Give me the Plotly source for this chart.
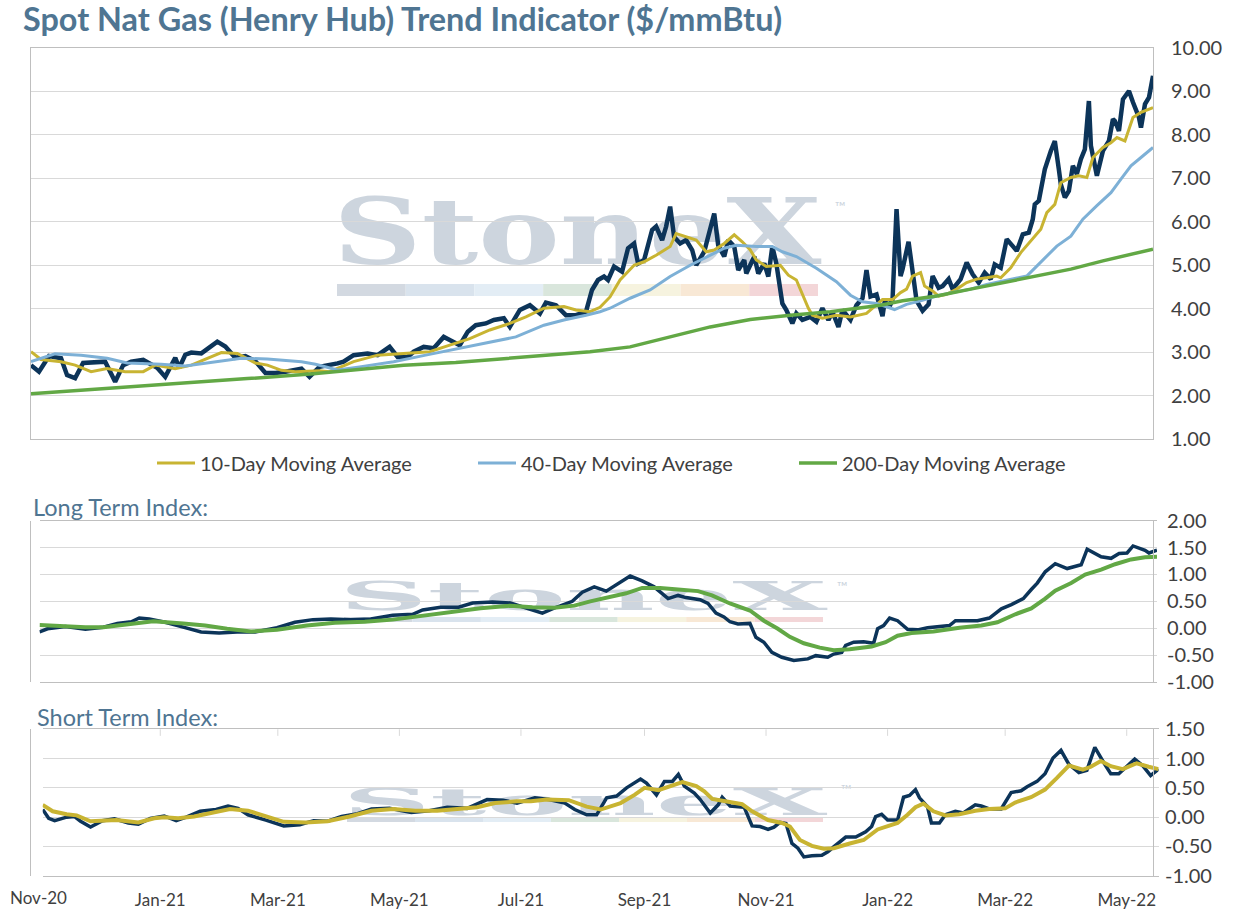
import json
import pandas as pd
import plotly.graph_objects as go

# ---------------- data ----------------
START = pd.Timestamp("2020-11-03")
END = pd.Timestamp("2022-05-17")

# Spot Henry Hub price ($/mmBtu), days after START
price_day = [0, 4, 9, 15, 18, 22, 26, 32, 37, 42, 46, 50, 56, 63, 67, 72, 74, 77, 80, 85,
             90, 93, 97, 102, 107, 112, 117, 122, 127, 135, 139, 144, 153, 156, 161, 168, 173, 179, 183, 188,
             191, 196, 201, 206, 209, 214, 218, 222, 227, 231, 236, 239, 244, 249, 254, 257, 262, 267, 272, 277,
             280, 283, 286, 288, 291, 295, 298, 301, 303, 306, 310, 312, 315, 317, 319, 321, 324, 327, 330, 332,
             336, 338, 341, 343, 346, 348, 351, 353, 356, 357, 361, 363, 366, 368, 370, 372, 375, 377, 380, 382,
             385, 389, 392, 395, 398, 400, 403, 405, 409, 412, 415, 417, 419, 422, 425, 426, 429, 430, 432, 434,
             435, 438, 440, 442, 445, 448, 450, 453, 455, 458, 460, 464, 467, 470, 473, 476, 479, 481, 484, 487,
             490, 492, 495, 498, 500, 501, 503, 504, 506, 509, 511, 513, 514, 516, 518, 520, 522, 524, 526, 528,
             529, 532, 534, 535, 538, 540, 541, 543, 545, 548, 550, 553, 554, 556, 558, 560]
price_val = [2.70, 2.55, 2.91, 2.86, 2.47, 2.40, 2.75, 2.78, 2.78, 2.32, 2.70, 2.78, 2.82, 2.64, 2.43, 2.87, 2.64, 2.94, 2.99, 2.97,
             3.13, 3.24, 3.13, 2.87, 2.91, 2.79, 2.52, 2.52, 2.55, 2.62, 2.43, 2.66, 2.74, 2.78, 2.93, 2.97, 2.93, 3.12, 2.89, 2.89,
             3.01, 3.12, 3.09, 3.35, 3.28, 3.16, 3.47, 3.62, 3.66, 3.74, 3.78, 3.58, 3.97, 4.08, 3.89, 4.14, 4.08, 3.85, 3.85, 3.93,
             4.43, 4.66, 4.74, 4.66, 4.97, 4.85, 5.39, 5.50, 5.04, 5.12, 5.81, 5.89, 5.58, 5.89, 6.35, 5.65, 5.50, 5.58, 5.35, 5.00,
             5.31, 5.70, 6.19, 5.46, 5.20, 5.58, 5.43, 4.89, 5.12, 4.81, 5.20, 4.81, 5.04, 4.74, 5.43, 5.04, 4.12, 3.97, 3.66, 3.89,
             3.74, 3.81, 3.70, 4.01, 3.74, 3.93, 3.58, 3.97, 3.74, 4.08, 4.24, 4.89, 4.28, 4.33, 3.83, 4.14, 4.10, 4.21, 6.29, 4.75,
             4.91, 5.54, 4.83, 4.18, 3.95, 4.10, 4.75, 4.48, 4.52, 4.68, 4.45, 4.68, 5.06, 4.79, 4.60, 4.83, 4.68, 5.02, 4.94, 5.60,
             5.44, 5.33, 5.71, 5.75, 6.06, 6.40, 6.48, 6.71, 7.21, 7.63, 7.86, 7.21, 6.86, 6.56, 6.71, 7.29, 7.10, 7.44, 7.67, 8.78,
             7.75, 7.06, 7.44, 7.63, 7.86, 8.36, 8.32, 8.09, 8.82, 9.01, 8.75, 8.40, 8.17, 8.71, 8.86, 9.36]

ma10_day = [0, 5, 15, 22, 30, 38, 47, 56, 62, 72, 80, 88, 95, 103, 112, 118, 125, 132, 144, 149,
            161, 173, 189, 199, 209, 219, 229, 239, 247, 256, 266, 272, 279, 284, 289, 294, 301, 306, 312, 319,
            322, 327, 332, 337, 341, 346, 351, 355, 359, 362, 367, 374, 378, 382, 385, 388, 390, 395, 402, 409,
            417, 420, 425, 430, 434, 437, 440, 444, 446, 450, 453, 457, 462, 467, 472, 477, 482, 484, 489, 494,
            499, 504, 507, 511, 514, 519, 523, 527, 530, 535, 539, 542, 546, 550, 554, 560]
ma10_val = [3.01, 2.83, 2.78, 2.70, 2.55, 2.62, 2.55, 2.55, 2.70, 2.62, 2.70, 2.86, 2.99, 2.97, 2.75, 2.70, 2.58, 2.55, 2.57, 2.55,
            2.78, 2.93, 2.97, 3.01, 3.16, 3.31, 3.51, 3.66, 3.81, 4.01, 4.05, 3.97, 3.93, 4.03, 4.27, 4.66, 5.00, 5.08, 5.23, 5.43,
            5.73, 5.65, 5.58, 5.31, 5.35, 5.50, 5.70, 5.54, 5.35, 5.12, 4.97, 5.00, 4.77, 4.66, 4.35, 4.01, 3.85, 3.78, 3.85, 3.81,
            3.89, 4.01, 4.21, 4.21, 4.37, 4.45, 4.75, 4.83, 4.52, 4.41, 4.29, 4.33, 4.45, 4.60, 4.68, 4.71, 4.75, 4.71, 4.94, 5.29,
            5.56, 5.83, 6.21, 6.40, 6.90, 7.02, 7.06, 7.02, 7.48, 7.71, 7.82, 7.94, 7.86, 8.40, 8.52, 8.63]

ma40_day = [0, 12, 25, 38, 48, 65, 77, 93, 105, 118, 135, 142, 153, 164, 181, 197, 214, 231, 242, 256,
            266, 277, 284, 289, 299, 309, 319, 329, 339, 346, 352, 362, 370, 375, 382, 392, 402, 409, 415, 422,
            431, 437, 444, 452, 460, 469, 477, 485, 492, 497, 502, 507, 512, 519, 525, 532, 539, 544, 549, 554, 560]
ma40_val = [2.78, 2.96, 2.93, 2.86, 2.75, 2.72, 2.68, 2.79, 2.86, 2.84, 2.78, 2.72, 2.59, 2.66, 2.78, 2.93, 3.09, 3.24, 3.35, 3.62,
            3.74, 3.85, 3.93, 4.01, 4.24, 4.43, 4.74, 5.00, 5.23, 5.39, 5.46, 5.43, 5.43, 5.31, 5.20, 4.93, 4.62, 4.31, 4.16, 4.12,
            3.98, 4.10, 4.18, 4.29, 4.37, 4.45, 4.56, 4.64, 4.71, 4.75, 4.98, 5.21, 5.44, 5.67, 6.06, 6.37, 6.67, 6.98, 7.29, 7.48, 7.71]

ma200_day = [0, 36, 72, 108, 141, 186, 212, 234, 259, 279, 299, 319, 339, 359, 379, 399, 424, 435, 452, 469,
             485, 502, 519, 535, 549, 560]
ma200_val = [2.04, 2.15, 2.27, 2.39, 2.50, 2.70, 2.76, 2.84, 2.94, 3.01, 3.12, 3.35, 3.58, 3.75, 3.85, 3.93, 4.08, 4.18, 4.29, 4.45,
             4.60, 4.75, 4.91, 5.10, 5.25, 5.37]

# Long Term Index
lt_day = [0, 4, 13, 23, 32, 39, 46, 50, 55, 63, 72, 81, 90, 99, 108, 119, 128, 137, 146, 156,
          166, 177, 187, 192, 201, 210, 217, 227, 236, 245, 252, 259, 267, 272, 278, 284, 291, 296, 302, 308,
          315, 320, 324, 331, 335, 339, 343, 346, 350, 356, 359, 363, 367, 372, 378, 385, 389, 395, 398, 402,
          404, 408, 413, 418, 420, 423, 426, 430, 435, 440, 445, 450, 456, 459, 465, 470, 476, 482, 487, 493,
          497, 500, 504, 509, 515, 522, 525, 532, 537, 541, 545, 548, 554, 556, 560]
lt_val = [-0.07, -0.01, 0.03, -0.02, 0.02, 0.09, 0.12, 0.19, 0.17, 0.11, 0.02, -0.07, -0.09, -0.07, -0.07, 0.01, 0.11, 0.16, 0.17, 0.16,
          0.17, 0.24, 0.26, 0.34, 0.39, 0.39, 0.47, 0.49, 0.47, 0.36, 0.28, 0.39, 0.50, 0.67, 0.77, 0.69, 0.86, 0.97, 0.88, 0.77,
          0.55, 0.61, 0.57, 0.53, 0.46, 0.28, 0.21, 0.12, 0.08, 0.09, -0.17, -0.26, -0.45, -0.54, -0.60, -0.57, -0.51, -0.54, -0.48, -0.45,
          -0.32, -0.26, -0.25, -0.28, -0.01, 0.05, 0.19, 0.14, -0.02, -0.03, 0.01, 0.03, 0.05, 0.14, 0.14, 0.14, 0.19, 0.36, 0.44, 0.55,
          0.72, 0.84, 1.05, 1.20, 1.11, 1.18, 1.47, 1.33, 1.30, 1.39, 1.40, 1.53, 1.45, 1.40, 1.45]
lt_ma_day = [0, 13, 23, 32, 43, 57, 72, 83, 94, 106, 119, 134, 148, 163, 177, 192, 207, 221, 236, 247,
             258, 268, 276, 285, 294, 302, 311, 320, 330, 337, 346, 356, 363, 370, 376, 383, 391, 398, 406, 417,
             424, 430, 437, 448, 461, 472, 480, 489, 497, 504, 509, 517, 524, 532, 539, 547, 554, 560]
lt_ma_val = [0.06, 0.03, 0.02, 0.02, 0.07, 0.13, 0.09, 0.05, -0.01, -0.06, -0.03, 0.05, 0.10, 0.12, 0.16, 0.23, 0.30, 0.37, 0.42, 0.39,
             0.38, 0.42, 0.50, 0.57, 0.65, 0.75, 0.75, 0.72, 0.69, 0.61, 0.46, 0.33, 0.14, -0.01, -0.16, -0.28, -0.36, -0.41, -0.39, -0.34,
             -0.26, -0.14, -0.09, -0.06, 0.01, 0.05, 0.11, 0.26, 0.37, 0.55, 0.70, 0.84, 1.00, 1.09, 1.19, 1.28, 1.32, 1.33]

# Short Term Index
st_day = [0, 3, 6, 12, 16, 19, 24, 30, 36, 43, 48, 54, 61, 67, 72, 79, 87, 93, 98, 103,
          112, 121, 129, 136, 143, 150, 158, 165, 174, 185, 194, 203, 213, 223, 231, 238, 247, 254, 262, 267,
          273, 278, 283, 288, 293, 300, 303, 308, 312, 316, 319, 322, 327, 330, 335, 339, 341, 345, 352, 356,
          360, 364, 367, 370, 373, 376, 379, 382, 386, 391, 394, 398, 403, 408, 413, 416, 418, 421, 424, 429,
          432, 435, 438, 440, 444, 446, 450, 453, 458, 462, 468, 471, 475, 481, 486, 491, 494, 499, 503, 507,
          511, 515, 520, 524, 528, 533, 536, 540, 543, 548, 552, 556, 560]
st_val = [0.13, -0.02, -0.06, 0.00, 0.01, -0.07, -0.17, -0.06, -0.03, -0.10, -0.12, -0.02, 0.02, -0.06, 0.00, 0.10, 0.13, 0.19, 0.15, 0.04,
          -0.05, -0.15, -0.13, -0.06, -0.07, 0.01, 0.06, 0.14, 0.15, 0.08, 0.11, 0.17, 0.15, 0.30, 0.29, 0.24, 0.33, 0.30, 0.24, 0.13,
          0.04, 0.04, 0.33, 0.36, 0.50, 0.65, 0.58, 0.38, 0.61, 0.61, 0.73, 0.53, 0.41, 0.30, 0.07, 0.21, 0.34, 0.19, 0.17, -0.15,
          -0.16, -0.21, -0.17, -0.09, -0.11, -0.45, -0.53, -0.68, -0.66, -0.65, -0.59, -0.48, -0.34, -0.34, -0.25, -0.16, 0.01, 0.05, -0.05, -0.05,
          0.34, 0.37, 0.47, 0.33, 0.18, -0.10, -0.10, 0.04, 0.10, 0.07, 0.21, 0.19, 0.14, 0.14, 0.42, 0.45, 0.52, 0.61, 0.74, 1.01,
          1.14, 0.90, 0.76, 0.80, 1.19, 0.90, 0.74, 0.74, 0.84, 0.99, 0.88, 0.71, 0.82]
st_ma_day = [0, 5, 12, 17, 24, 30, 37, 48, 56, 61, 68, 76, 85, 94, 103, 112, 121, 132, 143, 154,
             165, 176, 187, 198, 209, 218, 227, 238, 245, 253, 264, 273, 280, 290, 297, 302, 309, 315, 321, 328,
             332, 336, 341, 351, 356, 364, 371, 375, 380, 386, 392, 397, 405, 412, 419, 429, 434, 438, 442, 447,
             453, 460, 468, 475, 483, 488, 496, 503, 509, 515, 522, 526, 531, 536, 542, 549, 555, 560]
st_ma_val = [0.21, 0.10, 0.05, 0.03, -0.07, -0.06, -0.05, -0.09, -0.02, 0.00, -0.02, 0.01, 0.08, 0.14, 0.11, 0.01, -0.08, -0.09, -0.07, 0.01,
             0.11, 0.14, 0.11, 0.11, 0.15, 0.17, 0.24, 0.27, 0.27, 0.30, 0.29, 0.18, 0.13, 0.24, 0.38, 0.50, 0.46, 0.53, 0.60, 0.53,
             0.44, 0.31, 0.28, 0.22, 0.10, -0.05, -0.10, -0.16, -0.39, -0.49, -0.54, -0.53, -0.45, -0.39, -0.21, -0.10, 0.04, 0.17, 0.23, 0.10,
             0.03, 0.05, 0.11, 0.14, 0.15, 0.25, 0.34, 0.47, 0.67, 0.88, 0.81, 0.86, 0.96, 0.87, 0.82, 0.92, 0.86, 0.82]

# axis labels
month_ticks = ["2021-01-01", "2021-03-01", "2021-05-01", "2021-07-01",
               "2021-09-01", "2021-11-01", "2022-01-01", "2022-03-01", "2022-05-01"]
month_labels = ["Jan-21", "Mar-21", "May-21", "Jul-21",
                "Sep-21", "Nov-21", "Jan-22", "Mar-22", "May-22"]
first_tick, first_label = "2020-11-01", "Nov-20"
top_ticks = [1, 2, 3, 4, 5, 6, 7, 8, 9, 10]
top_labels = ["1.00", "2.00", "3.00", "4.00", "5.00", "6.00", "7.00", "8.00", "9.00", "10.00"]
lt_ticks = [-1.0, -0.5, 0.0, 0.5, 1.0, 1.5, 2.0]
lt_labels = ["-1.00", "-0.50", "0.00", "0.50", "1.00", "1.50", "2.00"]
st_ticks = [-1.0, -0.5, 0.0, 0.5, 1.0, 1.5]
st_labels = ["-1.00", "-0.50", "0.00", "0.50", "1.00", "1.50"]

# ---------------- style ----------------
W, H = 1241, 916
NAVY = "#0c3459"
GOLD = "#c8b432"
BLUE = "#7db0d6"
GREEN = "#62a845"
GRID = "#d9d9d9"
BORDER = "#bfbfbf"
TXT = "#404040"
TITLE = "#4f7592"
FONT = "Lato"
WM = "#cdd5de"
BAR_COLORS = ["#d3d9e1", "#d9e3ed", "#e3edf5", "#d9e6dc", "#f6f3df", "#f8e8d5", "#f3d6d8"]


def px(x):
    return x / W


def py(y):
    return 1 - y / H


def dates(days):
    return [START + pd.Timedelta(days=d) for d in days]


fig = go.Figure()


def line(days, vals, color, width, xa, ya, name=None, legend=False):
    fig.add_trace(go.Scatter(x=dates(days), y=vals, mode="lines", name=name,
                             line=dict(color=color, width=width), showlegend=legend,
                             xaxis=xa, yaxis=ya, hoverinfo="skip"))


line(price_day, price_val, NAVY, 4.5, "x", "y", "Spot")
line(ma10_day, ma10_val, GOLD, 3, "x", "y", "10-Day Moving Average", True)
line(ma40_day, ma40_val, BLUE, 3, "x", "y", "40-Day Moving Average", True)
line(ma200_day, ma200_val, GREEN, 3.5, "x", "y", "200-Day Moving Average", True)

line(lt_day, lt_val, NAVY, 3.5, "x2", "y2")
line(lt_ma_day, lt_ma_val, GREEN, 4, "x2", "y2")

line(st_day, st_val, NAVY, 3.5, "x3", "y3")
line(st_ma_day, st_ma_val, GOLD, 4, "x3", "y3")

rng = [START, END]
box_x = dict(range=rng, showgrid=False, showticklabels=False, ticks="", showline=True,
             linecolor=BORDER, linewidth=1, mirror=True, zeroline=False, fixedrange=True,
             automargin=False)


def yax(domain, r, tv, tt, standoff):
    return dict(domain=domain, range=r, side="right", tickvals=tv, ticktext=tt,
                showgrid=True, gridcolor=GRID, gridwidth=1, zeroline=False,
                showline=True, linecolor=BORDER, linewidth=1, mirror=True, ticks="",
                tickfont=dict(family=FONT, size=20, color=TXT), ticklabelstandoff=standoff,
                fixedrange=True, automargin=False)


# bottom panel geometry
b_left, b_right = 42.7, 1158.6
ppd = (b_right - b_left) / (END - START).days

fig.update_layout(
    width=W, height=H, margin=dict(l=0, r=0, t=0, b=0, pad=0, autoexpand=False),
    paper_bgcolor="white", plot_bgcolor="white",
    font=dict(family=FONT, color=TXT),
    xaxis=dict(box_x, domain=[px(31), px(1153)], anchor="y"),
    yaxis=yax([py(439), py(48)], [1, 10], top_ticks, top_labels, 13),
    xaxis2=dict(box_x, domain=[px(39.5), px(1157)], anchor="y2"),
    yaxis2=yax([py(682), py(520.7)], [-1, 2], lt_ticks, lt_labels, 9),
    xaxis3=dict(box_x, domain=[px(b_left), px(b_right)], anchor="y3",
                showticklabels=True, tickvals=month_ticks, ticktext=month_labels,
                tickfont=dict(family=FONT, size=17, color=TXT), ticklabelstandoff=9),
    yaxis3=yax([py(875.7), py(729.3)], [-1, 1.5], st_ticks, st_labels, 7),
    legend=dict(orientation="h", x=px(152), xanchor="left", y=py(463), yanchor="middle",
                font=dict(family=FONT, size=20, color=TXT), itemwidth=38, entrywidth=268,
                bgcolor="rgba(0,0,0,0)", traceorder="normal"),
    showlegend=True,
)

# title and subtitles
fig.add_annotation(text="<b>Spot Nat Gas (Henry Hub) Trend Indicator ($/mmBtu)</b>",
                   x=px(21), y=py(19), xref="paper", yref="paper", xanchor="left", yanchor="middle",
                   showarrow=False, font=dict(family=FONT, size=32.4, color=TITLE))
fig.add_annotation(text="Long Term Index:", x=px(31), y=py(507), xref="paper", yref="paper",
                   xanchor="left", yanchor="middle", showarrow=False,
                   font=dict(family=FONT, size=23.5, color=TITLE))
fig.add_annotation(text="Short Term Index:", x=px(35), y=py(717), xref="paper", yref="paper",
                   xanchor="left", yanchor="middle", showarrow=False,
                   font=dict(family=FONT, size=23.5, color=TITLE))
# first month label sits just left of the bottom panel's first date
nov_days = (pd.Timestamp(first_tick) - START).days
fig.add_annotation(text=first_label, x=px(b_left + nov_days * ppd), y=py(875.7),
                   xref="paper", yref="paper", xanchor="center", yanchor="top", yshift=-9,
                   showarrow=False, font=dict(family=FONT, size=17, color=TXT))

# short tick marks along the top edge of the bottom panel
for t in month_ticks:
    fig.add_shape(type="line", xref="x3", yref="y3 domain", x0=t, x1=t, y0=1, y1=0.955,
                  line=dict(color=GRID, width=1), layer="below")

# StoneX watermarks (drawn between grid and traces); the word is stretched to the
# logo's wide proportions after drawing: (horizontal, vertical) scale per panel
WM_SCALE = [(1.33, 1.0), (1.33, 0.42), (1.32, 0.41)]


def watermark(x0, x1, cap_top, cap_bot, bar_top, bar_bot, tm_x, tm_y):
    cx = (x0 + x1) / 2
    cy = (cap_top + cap_bot) / 2
    fig.add_shape(type="rect", xref="paper", yref="paper", layer="between",
                  x0=px(cx - 200), x1=px(cx + 200), y0=py(cy + 50), y1=py(cy - 50),
                  line=dict(width=0), fillcolor="rgba(0,0,0,0)",
                  label=dict(text="<b>StoneX</b>", textposition="middle center",
                             font=dict(family="DejaVu Serif", size=92, color=WM)))
    fig.add_shape(type="rect", xref="paper", yref="paper", layer="between",
                  x0=px(tm_x - 15), x1=px(tm_x + 15), y0=py(tm_y + 8), y1=py(tm_y - 8),
                  line=dict(width=0), fillcolor="rgba(0,0,0,0)",
                  label=dict(text="™", textposition="middle center",
                             font=dict(family=FONT, size=14, color=WM)))
    seg = (x1 - x0) / len(BAR_COLORS)
    for i, c in enumerate(BAR_COLORS):
        fig.add_shape(type="rect", xref="paper", yref="paper", layer="between",
                      x0=px(x0 + i * seg), x1=px(x0 + (i + 1) * seg),
                      y0=py(bar_bot), y1=py(bar_top), line=dict(width=0), fillcolor=c)


watermark(337, 818, 193, 259, 284, 296, 840, 206)
watermark(344, 823, 577, 605, 617, 622, 842, 586)
watermark(347, 823, 782, 809, 817, 822, 846, 789)

js = (
    "document.body.style.margin='0px';"
    "var sc=" + json.dumps(WM_SCALE) + ";var k=0;"
    "document.querySelectorAll('.js-plotly-plot text').forEach(function(t){"
    "if(t.textContent==='StoneX'&&k<sc.length){"
    "var b=t.getBBox();var cx=b.x+b.width/2,cy=b.y+b.height/2;"
    "var old=t.getAttribute('transform')||'';"
    "t.setAttribute('transform',old+' translate('+cx+' '+cy+') scale('+sc[k][0]+' '+sc[k][1]+') translate('+(-cx)+' '+(-cy)+')');"
    "k++;}});"
)
fig.write_html("out.html", post_script=js, config={"displayModeBar": False})
